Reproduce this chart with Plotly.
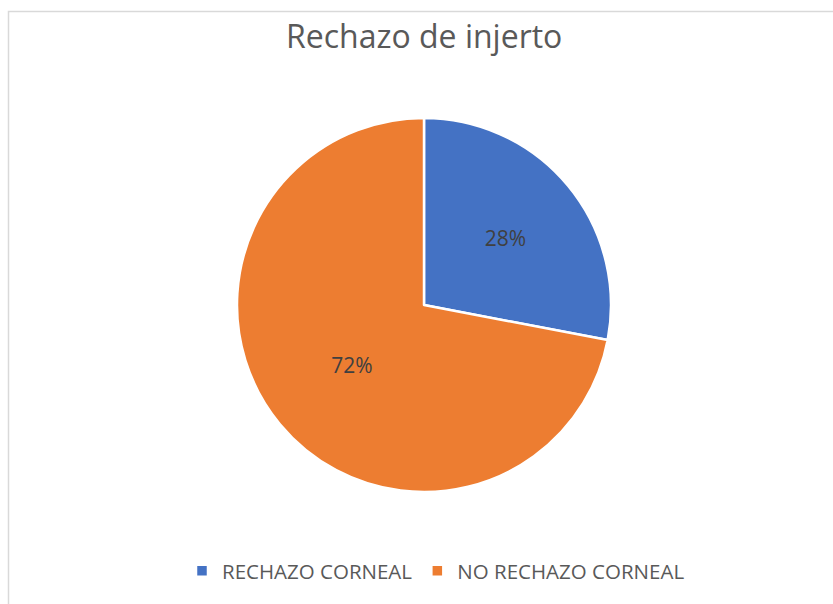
import plotly.graph_objects as go

categories = ["RECHAZO CORNEAL", "NO RECHAZO CORNEAL"]
values = [28, 72]
colors = ["#4472C4", "#ED7D31"]
title_text = "Rechazo de injerto"

W, H = 833, 604
cx, cy, R = 424, 305, 187
FONT = "Open Sans"

fig = go.Figure()
fig.add_trace(go.Pie(
    labels=categories,
    values=values,
    sort=False,
    direction="clockwise",
    rotation=0,
    marker=dict(colors=colors, line=dict(color="white", width=2.5)),
    textinfo="percent",
    texttemplate="%{percent:.0%}",
    textposition="inside",
    insidetextorientation="horizontal",
    textfont=dict(family=FONT, size=21, color="#404040"),
    hoverinfo="label+percent",
    domain=dict(x=[(cx - R) / W, (cx + R) / W], y=[(H - cy - R) / H, (H - cy + R) / H]),
))

fig.update_layout(
    width=W, height=H,
    margin=dict(l=0, r=0, t=0, b=0),
    paper_bgcolor="white",
    plot_bgcolor="white",
    showlegend=True,
    legend=dict(
        orientation="h",
        x=436 / W, xanchor="center",
        y=(H - 571) / H, yanchor="middle",
        font=dict(family=FONT, size=20.5, color="#595959"),
        itemwidth=30,
        traceorder="normal",
    ),
    annotations=[dict(
        text=title_text, x=cx / W, y=(H - 36) / H, xref="paper", yref="paper",
        xanchor="center", yanchor="middle", showarrow=False,
        font=dict(family=FONT, size=32, color="#595959"),
    )],
    shapes=[dict(
        type="path", xref="paper", yref="paper",
        path=f"M {8.5/W} 0 L {8.5/W} {(H-11.5)/H} L 1 {(H-11.5)/H}",
        line=dict(color="#D9D9D9", width=1.5),
    )],
)

fig.write_html(
    "out.html",
    config={"displayModeBar": False},
    post_script="document.body.style.margin='0';document.body.style.overflow='hidden';",
)
